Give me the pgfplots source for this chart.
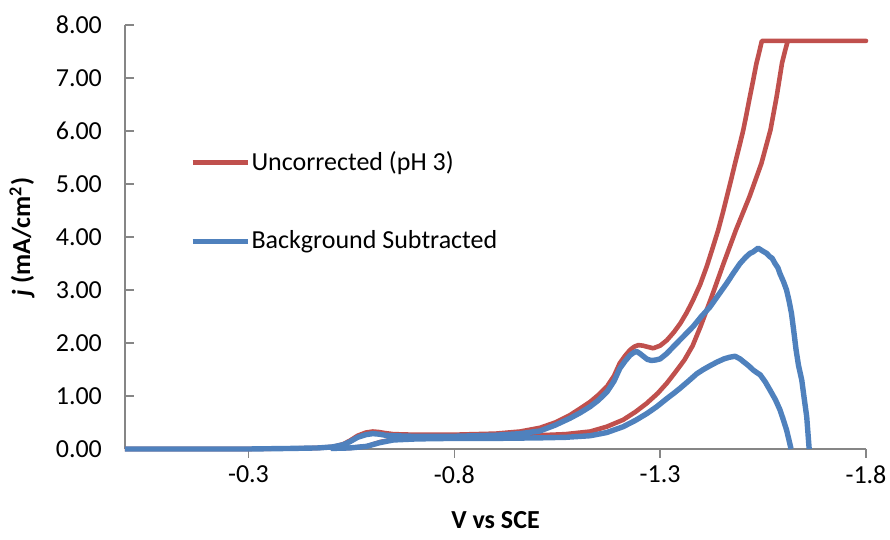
\documentclass[border=0pt]{standalone}
\usepackage{pgfplots}
\usepackage{pgfplotstable}
\usepackage{fontspec}
\setmainfont{Carlito}
\pgfplotsset{compat=1.18}

\definecolor{uncorr}{HTML}{C0504D}
\definecolor{bgsub}{HTML}{4F81BD}
\definecolor{axgray}{HTML}{868686}

% potential (V vs SCE), current density (mA/cm^2)
\pgfplotstableread{
V j
0.000 0.00
-0.100 0.00
-0.200 0.00
-0.300 0.00
-0.400 0.01
-0.470 0.02
-0.505 0.04
-0.530 0.09
-0.547 0.16
-0.565 0.25
-0.585 0.31
-0.602 0.33
-0.617 0.32
-0.632 0.30
-0.652 0.28
-0.700 0.27
-0.800 0.27
-0.900 0.29
-0.960 0.33
-1.008 0.40
-1.045 0.50
-1.081 0.64
-1.105 0.76
-1.130 0.89
-1.150 1.02
-1.171 1.18
-1.188 1.38
-1.202 1.62
-1.215 1.76
-1.227 1.87
-1.237 1.93
-1.247 1.96
-1.258 1.95
-1.268 1.93
-1.283 1.90
-1.300 1.95
-1.316 2.05
-1.333 2.20
-1.349 2.37
-1.365 2.58
-1.380 2.81
-1.397 3.10
-1.413 3.44
-1.427 3.78
-1.441 4.13
-1.452 4.45
-1.462 4.76
-1.472 5.07
-1.482 5.39
-1.492 5.70
-1.502 6.02
-1.510 6.33
-1.518 6.65
-1.526 6.96
-1.534 7.28
-1.541 7.50
-1.547 7.70
-1.800 7.70
-1.610 7.70
-1.603 7.50
-1.596 7.28
-1.583 6.65
-1.568 6.02
-1.546 5.39
-1.517 4.76
-1.484 4.13
-1.454 3.50
-1.425 2.87
-1.398 2.31
-1.379 1.95
-1.359 1.68
-1.337 1.45
-1.316 1.24
-1.294 1.05
-1.267 0.86
-1.240 0.70
-1.210 0.55
-1.170 0.42
-1.130 0.33
-1.070 0.28
-1.008 0.26
-0.900 0.23
-0.800 0.22
-0.709 0.21
-0.652 0.18
-0.619 0.13
-0.587 0.05
-0.547 0.02
-0.500 0.01
}\uncorrected

\pgfplotstableread{
V j
0.000 0.00
-0.100 0.00
-0.200 0.00
-0.300 0.00
-0.400 0.01
-0.470 0.02
-0.505 0.04
-0.530 0.08
-0.547 0.14
-0.565 0.22
-0.585 0.27
-0.602 0.29
-0.617 0.28
-0.632 0.26
-0.652 0.25
-0.700 0.24
-0.800 0.24
-0.900 0.26
-0.960 0.29
-1.008 0.34
-1.045 0.45
-1.081 0.58
-1.105 0.68
-1.130 0.80
-1.150 0.92
-1.171 1.08
-1.188 1.28
-1.202 1.52
-1.215 1.66
-1.227 1.77
-1.236 1.82
-1.243 1.84
-1.251 1.80
-1.259 1.75
-1.269 1.69
-1.279 1.67
-1.290 1.68
-1.300 1.70
-1.316 1.80
-1.332 1.93
-1.356 2.12
-1.380 2.31
-1.400 2.50
-1.421 2.68
-1.441 2.90
-1.462 3.13
-1.478 3.32
-1.494 3.50
-1.508 3.62
-1.518 3.69
-1.526 3.72
-1.538 3.79
-1.548 3.74
-1.559 3.69
-1.566 3.63
-1.572 3.60
-1.579 3.50
-1.586 3.42
-1.591 3.31
-1.600 3.15
-1.607 3.00
-1.613 2.80
-1.619 2.56
-1.625 2.20
-1.630 1.88
-1.636 1.58
-1.644 1.30
-1.650 0.95
-1.656 0.61
-1.662 0.00
nan nan
-1.618 0.00
-1.612 0.20
-1.607 0.36
-1.598 0.58
-1.591 0.74
-1.580 0.93
-1.567 1.11
-1.555 1.27
-1.543 1.40
-1.535 1.44
-1.526 1.49
-1.515 1.57
-1.502 1.65
-1.494 1.70
-1.482 1.75
-1.468 1.73
-1.455 1.70
-1.438 1.64
-1.421 1.57
-1.405 1.50
-1.389 1.42
-1.370 1.29
-1.349 1.15
-1.333 1.05
-1.316 0.95
-1.292 0.80
-1.268 0.67
-1.240 0.54
-1.210 0.42
-1.170 0.31
-1.130 0.25
-1.070 0.22
-1.008 0.21
-0.900 0.20
-0.800 0.20
-0.709 0.19
-0.652 0.17
-0.619 0.12
-0.587 0.05
-0.547 0.02
-0.500 0.01
}\subtracted

\begin{document}
\begin{tikzpicture}
\path[use as bounding box] (0,0) rectangle (445pt,270pt);
\begin{axis}[
  at={(62.5pt,45.5pt)}, anchor=south west,
  scale only axis, width=370.5pt, height=212pt,
  x dir=reverse,
  xmin=-1.8, xmax=0, ymin=0, ymax=8,
  clip=false,
  unbounded coords=jump,
  axis x line*=bottom, axis y line*=left,
  axis line style={draw=axgray, line width=0.7pt, -},
  xtick={-1.8,-1.3,-0.8,-0.3},
  xticklabels={-1.8,-1.3,-0.8,-0.3},
  ytick={0,1,2,3,4,5,6,7,8},
  yticklabels={0.00,1.00,2.00,3.00,4.00,5.00,6.00,7.00,8.00},
  tick align=inside,
  major tick length=4.5pt,
  tick style={draw=axgray, line width=0.7pt},
  x tick style={yshift=-4.5pt},
  tick label style={font=\fontsize{13}{15}\selectfont, text=black},
  yticklabel style={xshift=-8pt},
  xticklabel style={yshift=-5pt},
  label style={font=\fontsize{13}{15}\selectfont\bfseries},
  xlabel={V vs SCE},
  ylabel={\textit{j} (mA/cm\textsuperscript{2})},
  xlabel style={at={(axis description cs:0.5,-0.1675)}, anchor=center},
  ylabel style={at={(axis description cs:-0.139,0.5)}, anchor=center},
  legend style={
    at={(axis description cs:0.079,0.715)}, anchor=north west,
    draw=none, fill=none,
    font=\fontsize{13}{15}\selectfont,
    row sep=27.5pt,
    nodes={inner sep=0.6pt},
  },
  legend cell align=left,
  legend image code/.code={\draw[#1] (0pt,0pt) -- (27.5pt,0pt);},
]
\addplot[uncorr, line width=2.3pt, line join=round] table[x=V, y=j] {\uncorrected};
\addlegendentry{Uncorrected (pH 3)}
\addplot[bgsub, line width=2.7pt, line join=round] table[x=V, y=j] {\subtracted};
\addlegendentry{Background Subtracted}
\end{axis}
\end{tikzpicture}
\end{document}
